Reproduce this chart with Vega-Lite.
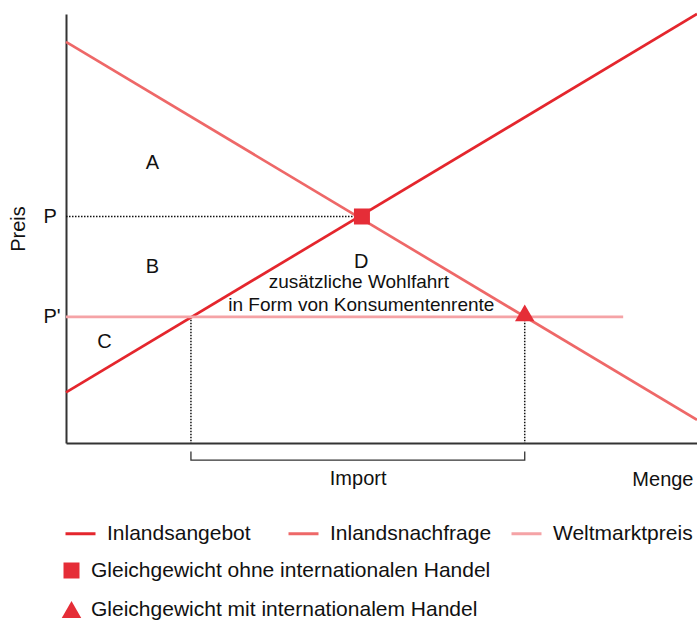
{
  "$schema": "https://vega.github.io/schema/vega-lite/v6.json",
  "width": 631,
  "height": 429,
  "autosize": {"type": "none"},
  "padding": {"left": 66, "top": 14, "right": 0, "bottom": 177},
  "background": "white",
  "config": {
    "view": {"stroke": null},
    "font": "Liberation Sans",
    "text": {"font": "Liberation Sans", "color": "#111111"}
  },
  "datasets": {
    "kurven": [
      {"Kurve": "Inlandsangebot", "Menge": 0, "Preis": 11.8},
      {"Kurve": "Inlandsangebot", "Menge": 100, "Preis": 100},
      {"Kurve": "Inlandsnachfrage", "Menge": 0, "Preis": 93.5},
      {"Kurve": "Inlandsnachfrage", "Menge": 100, "Preis": 5.4},
      {"Kurve": "Weltmarktpreis", "Menge": 0, "Preis": 29.4},
      {"Kurve": "Weltmarktpreis", "Menge": 88.3, "Preis": 29.4}
    ],
    "gleichgewicht": [
      {"Gleichgewicht": "Gleichgewicht ohne internationalen Handel", "Menge": 46.9, "Preis": 52.8},
      {"Gleichgewicht": "Gleichgewicht mit internationalem Handel", "Menge": 72.7, "Preis": 29.4}
    ],
    "hilfslinien": [
      {"Linie": "P", "Menge": 0, "Preis": 52.8},
      {"Linie": "P", "Menge": 46.9, "Preis": 52.8},
      {"Linie": "Q1", "Menge": 19.8, "Preis": 29.4},
      {"Linie": "Q1", "Menge": 19.8, "Preis": 0},
      {"Linie": "Q2", "Menge": 72.7, "Preis": 29.4},
      {"Linie": "Q2", "Menge": 72.7, "Preis": 0}
    ],
    "klammer": [
      {"Punkt": 1, "Menge": 19.8, "Preis": -2.0},
      {"Punkt": 2, "Menge": 19.8, "Preis": -4.0},
      {"Punkt": 3, "Menge": 72.7, "Preis": -4.0},
      {"Punkt": 4, "Menge": 72.7, "Preis": -2.0}
    ],
    "flaechen": [
      {"Text": "A", "Menge": 13.7, "Preis": 63.9},
      {"Text": "B", "Menge": 13.7, "Preis": 39.6},
      {"Text": "C", "Menge": 6.1, "Preis": 22.1},
      {"Text": "D", "Menge": 46.8, "Preis": 40.8},
      {"Text": "Import", "Menge": 46.3, "Preis": -9.8}
    ],
    "beschriftung": [
      {"Text": "zusätzliche Wohlfahrt", "Menge": 46.4, "Preis": 36.1},
      {"Text": "in Form von Konsumentenrente", "Menge": 46.8, "Preis": 30.8}
    ]
  },
  "encoding": {
    "x": {
      "field": "Menge",
      "type": "quantitative",
      "scale": {"domain": [0, 100], "nice": false, "zero": false},
      "axis": {
        "title": "Menge",
        "domain": true,
        "domainColor": "#333333",
        "domainWidth": 2,
        "ticks": false,
        "labels": false,
        "grid": false,
        "titleFont": "Liberation Sans",
        "titleFontSize": 20,
        "titleFontWeight": "normal",
        "titleColor": "#111111",
        "titleAlign": "right",
        "titleAnchor": "end",
        "titleBaseline": "alphabetic",
        "titleX": 627,
        "titleY": 42
      }
    },
    "y": {
      "field": "Preis",
      "type": "quantitative",
      "scale": {"domain": [0, 100], "nice": false, "zero": false},
      "axis": {
        "title": "Preis",
        "domain": true,
        "domainColor": "#333333",
        "domainWidth": 2,
        "ticks": false,
        "tickSize": 0,
        "grid": false,
        "values": [29.4, 52.8],
        "labelExpr": "datum.value > 40 ? 'P' : 'P\\''",
        "labelAlign": "left",
        "labelBaseline": "middle",
        "labelPadding": 23,
        "labelFont": "Liberation Sans",
        "labelFontSize": 20,
        "labelColor": "#111111",
        "titleFont": "Liberation Sans",
        "titleFontSize": 20,
        "titleFontWeight": "normal",
        "titleColor": "#111111",
        "titleAngle": 270,
        "titleAlign": "center",
        "titleBaseline": "alphabetic",
        "titleX": -42,
        "titleY": 214.5
      }
    }
  },
  "layer": [
    {
      "data": {"name": "hilfslinien"},
      "mark": {"type": "line", "color": "#111111", "strokeWidth": 1.5, "strokeDash": [1.5, 1.5]},
      "encoding": {"detail": {"field": "Linie"}}
    },
    {
      "data": {"name": "klammer"},
      "mark": {"type": "line", "color": "#333333", "strokeWidth": 1.3, "clip": false},
      "encoding": {"order": {"field": "Punkt", "type": "quantitative"}}
    },
    {
      "data": {"name": "kurven"},
      "mark": {"type": "line", "strokeWidth": 2.7},
      "encoding": {
        "color": {
          "field": "Kurve",
          "type": "nominal",
          "scale": {
            "domain": ["Weltmarktpreis", "Inlandsnachfrage", "Inlandsangebot"],
            "range": ["#f5a3a6", "#ee6868", "#e4262d"]
          },
          "legend": {
            "title": null,
            "orient": "none",
            "legendX": -2,
            "legendY": 503,
            "direction": "horizontal",
            "columns": 3,
            "gridAlign": "all",
            "columnPadding": 13,
            "padding": 0,
            "symbolType": "stroke",
            "symbolSize": 900,
            "symbolStrokeWidth": 3,
            "labelOffset": 10,
            "labelFont": "Liberation Sans",
            "labelFontSize": 21,
            "labelColor": "#111111",
            "labelLimit": 400,
            "values": ["Inlandsangebot", "Inlandsnachfrage", "Weltmarktpreis"]
          }
        }
      }
    },
    {
      "data": {"name": "gleichgewicht"},
      "transform": [{"filter": "datum.Gleichgewicht === 'Gleichgewicht ohne internationalen Handel'"}],
      "mark": {"type": "point", "filled": true, "color": "#e52d37", "opacity": 1, "strokeWidth": 0},
      "encoding": {
        "shape": {
          "field": "Gleichgewicht",
          "type": "nominal",
          "scale": {
            "domain": ["Gleichgewicht ohne internationalen Handel", "Gleichgewicht mit internationalem Handel"],
            "range": ["square", "triangle-up"]
          },
          "legend": {
            "title": null,
            "orient": "none",
            "legendX": -5,
            "legendY": 546,
            "direction": "vertical",
            "padding": 0,
            "rowPadding": 17,
            "labelOffset": 9,
            "labelFont": "Liberation Sans",
            "labelFontSize": 21,
            "labelColor": "#111111",
            "labelLimit": 500,
            "symbolFillColor": "#e52d37",
            "symbolStrokeWidth": 0,
            "symbolOpacity": 1
          }
        },
        "size": {
          "field": "Gleichgewicht",
          "type": "nominal",
          "scale": {
            "domain": ["Gleichgewicht ohne internationalen Handel", "Gleichgewicht mit internationalem Handel"],
            "range": [256, 380]
          },
          "legend": {
            "title": null,
            "orient": "none",
            "legendX": -5,
            "legendY": 546,
            "direction": "vertical",
            "padding": 0,
            "rowPadding": 17,
            "labelOffset": 9,
            "labelFont": "Liberation Sans",
            "labelFontSize": 21,
            "labelColor": "#111111",
            "labelLimit": 500,
            "symbolFillColor": "#e52d37",
            "symbolStrokeWidth": 0,
            "symbolOpacity": 1
          }
        }
      }
    },
    {
      "data": {"name": "gleichgewicht"},
      "transform": [{"filter": "datum.Gleichgewicht === 'Gleichgewicht mit internationalem Handel'"}],
      "mark": {"type": "point", "filled": true, "color": "#e52d37", "opacity": 1, "strokeWidth": 0, "yOffset": -4},
      "encoding": {
        "shape": {
          "field": "Gleichgewicht",
          "type": "nominal",
          "scale": {
            "domain": ["Gleichgewicht ohne internationalen Handel", "Gleichgewicht mit internationalem Handel"],
            "range": ["square", "triangle-up"]
          },
          "legend": {
            "title": null,
            "orient": "none",
            "legendX": -5,
            "legendY": 546,
            "direction": "vertical",
            "padding": 0,
            "rowPadding": 17,
            "labelOffset": 9,
            "labelFont": "Liberation Sans",
            "labelFontSize": 21,
            "labelColor": "#111111",
            "labelLimit": 500,
            "symbolFillColor": "#e52d37",
            "symbolStrokeWidth": 0,
            "symbolOpacity": 1
          }
        },
        "size": {
          "field": "Gleichgewicht",
          "type": "nominal",
          "scale": {
            "domain": ["Gleichgewicht ohne internationalen Handel", "Gleichgewicht mit internationalem Handel"],
            "range": [256, 380]
          },
          "legend": {
            "title": null,
            "orient": "none",
            "legendX": -5,
            "legendY": 546,
            "direction": "vertical",
            "padding": 0,
            "rowPadding": 17,
            "labelOffset": 9,
            "labelFont": "Liberation Sans",
            "labelFontSize": 21,
            "labelColor": "#111111",
            "labelLimit": 500,
            "symbolFillColor": "#e52d37",
            "symbolStrokeWidth": 0,
            "symbolOpacity": 1
          }
        }
      }
    },
    {
      "data": {"name": "flaechen"},
      "mark": {"type": "text", "fontSize": 20, "align": "center", "baseline": "alphabetic", "color": "#111111", "clip": false},
      "encoding": {"text": {"field": "Text"}}
    },
    {
      "data": {"name": "beschriftung"},
      "mark": {"type": "text", "fontSize": 19, "align": "center", "baseline": "alphabetic", "color": "#111111"},
      "encoding": {"text": {"field": "Text"}}
    }
  ]
}
